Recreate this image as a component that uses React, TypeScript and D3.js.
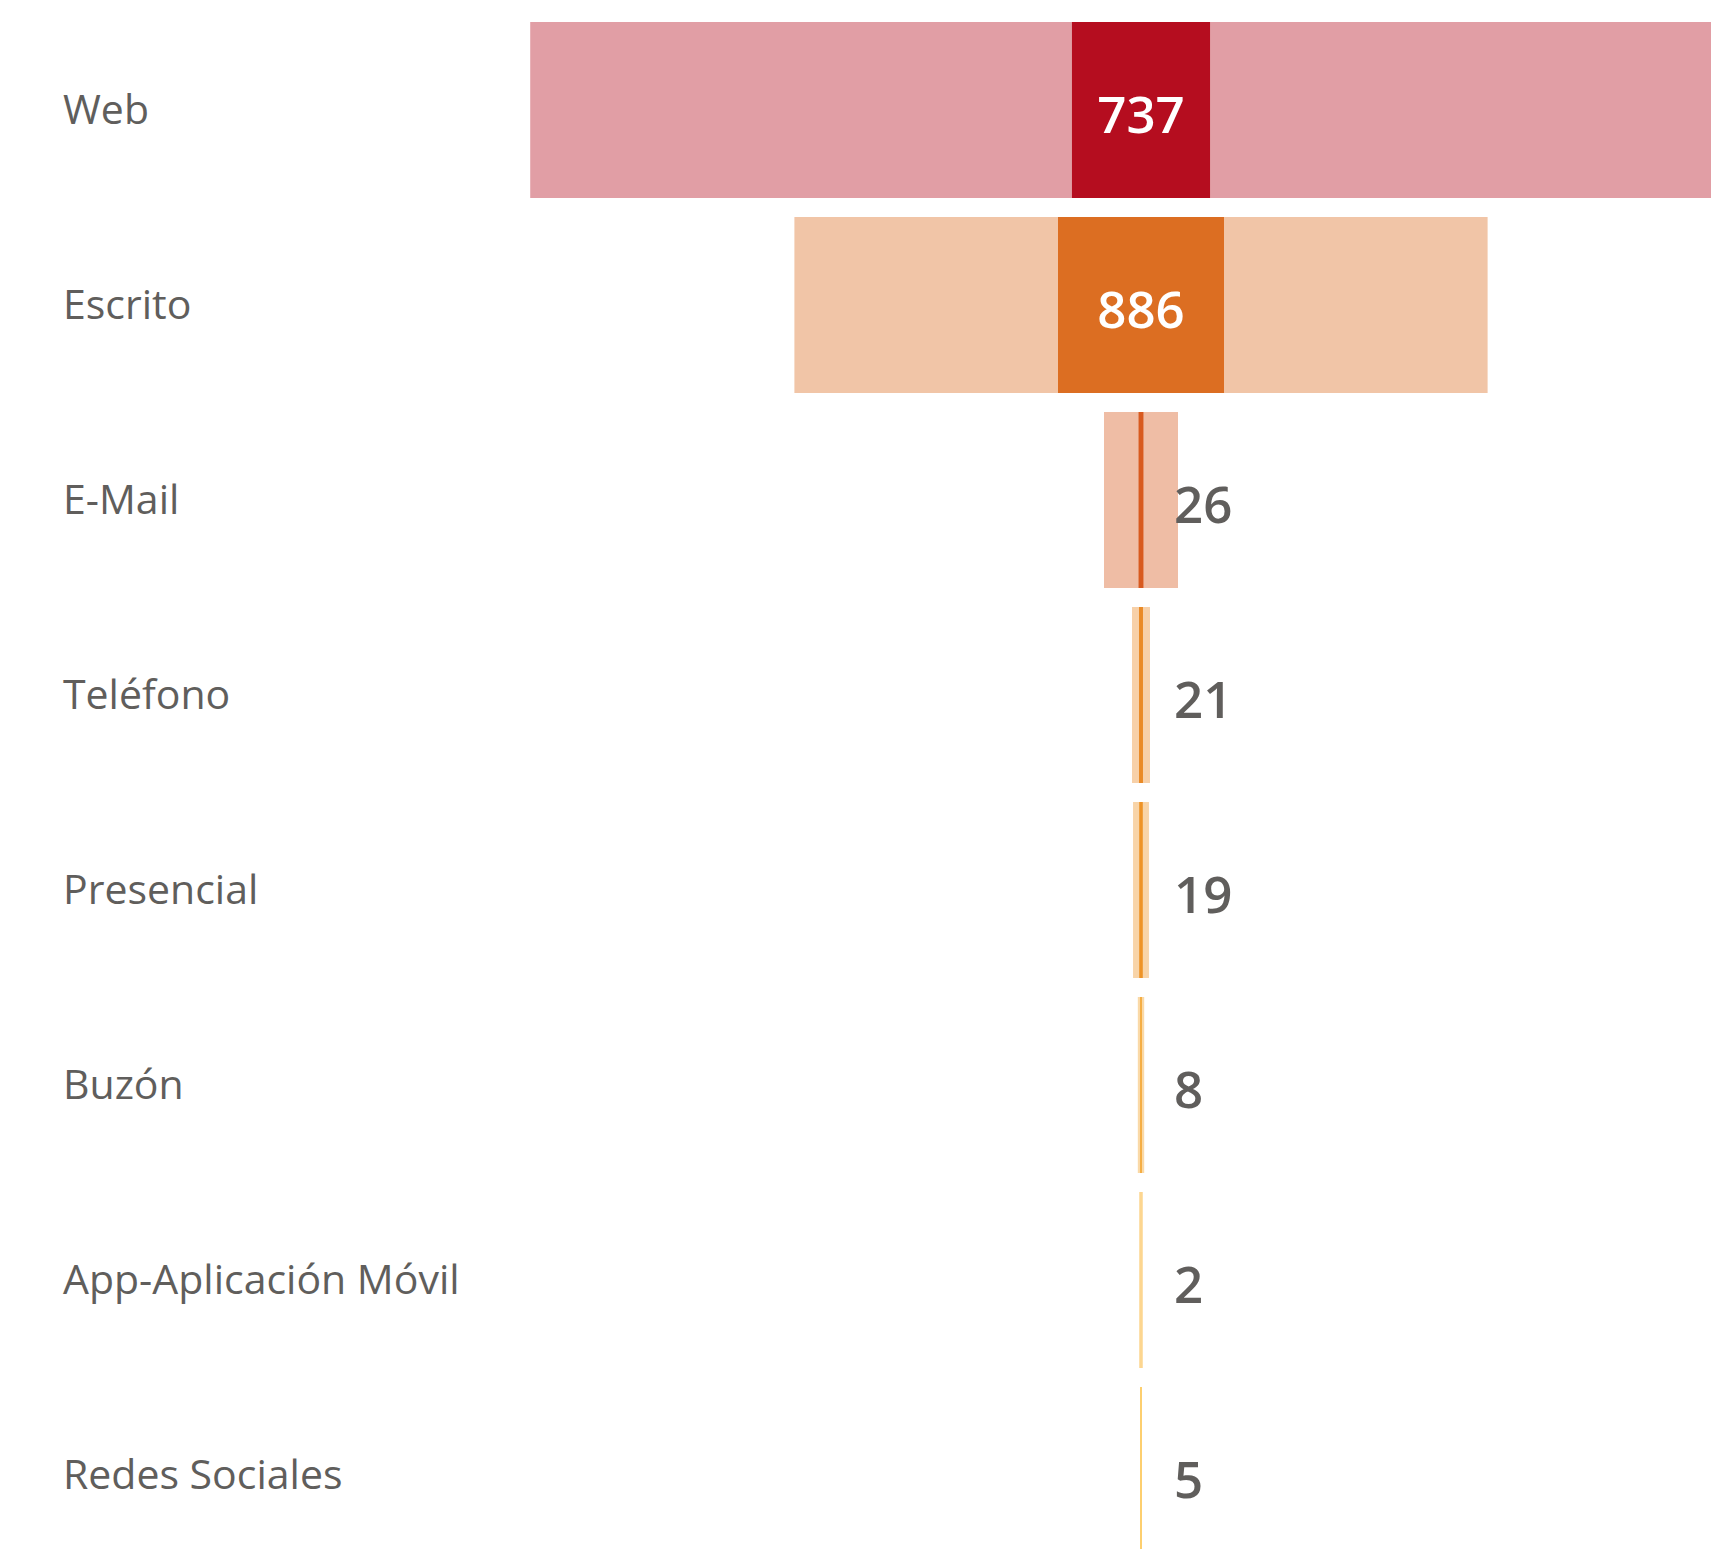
import * as d3 from 'd3';
import React from 'react';

const categories = ['Web', 'Escrito', 'E-Mail', 'Teléfono', 'Presencial', 'Buzón', 'App-Aplicación Móvil', 'Redes Sociales'];
const values = [737, 886, 26, 21, 19, 8, 2, 5];
// wide pale bar behind each value
const totals = [6520, 3700, 395, 96, 85, 34, 21, 10];
const colors = ['#B50D1F', '#DC6E22', '#D85A1F', '#EA8A26', '#EE9326', '#F3A024', '#FBAF28', '#FDB82A'];

const W = 1711;
const H = 1549;
const cx = 1141;

export default function App() {
  const y = d3.scaleBand<string>()
    .domain(categories)
    .range([22, 22 + categories.length * 195 - 19])
    .paddingInner(19 / 195)
    .paddingOuter(0);

  const w = d3.scaleLinear().domain([0, 886]).range([0, 166]);

  const font = '"Segoe UI", "Open Sans", sans-serif';

  return (
    <svg width={W} height={H} style={{ position: 'absolute', left: 0, top: 0, background: '#fff' }}>
      {categories.map((c, i) => {
        const y0 = y(c)!;
        const bh = y.bandwidth();
        const mid = y0 + bh / 2;
        const tw = w(totals[i]);
        const vw = w(values[i]);
        const inside = vw > 100;
        return (
          <g key={c}>
            <text x={63} y={mid + 14} fontFamily={font} fontSize={41} fill="#605E5C">{c}</text>
            <rect x={cx - tw / 2} y={y0} width={tw} height={bh} fill={colors[i]} fillOpacity={0.4} />
            <rect x={cx - vw / 2} y={y0} width={vw} height={bh} fill={colors[i]} />
            <text
              x={inside ? cx : cx + 33}
              y={mid + 23}
              textAnchor={inside ? 'middle' : 'start'}
              fontFamily={font}
              fontWeight={600}
              fontSize={51}
              fill={inside ? '#fff' : '#605E5C'}
            >
              {values[i]}
            </text>
          </g>
        );
      })}
    </svg>
  );
}
